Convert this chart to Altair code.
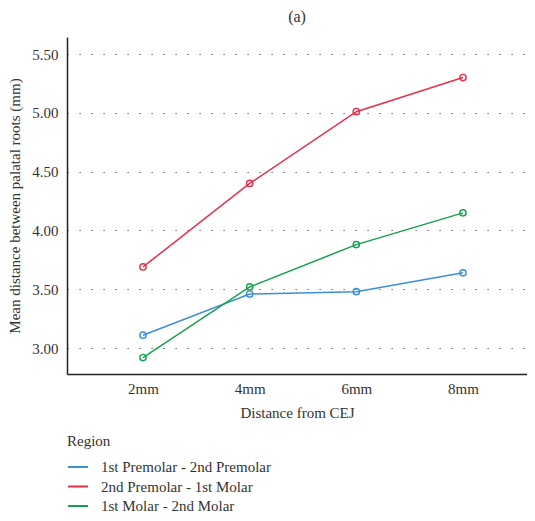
import altair as alt
import pandas as pd

distances = [2, 4, 6, 8]
regions = ["1st Premolar - 2nd Premolar", "2nd Premolar - 1st Molar", "1st Molar - 2nd Molar"]
premolar_premolar = [3.11, 3.46, 3.48, 3.64]
premolar_molar = [3.69, 4.40, 5.01, 5.30]
molar_molar = [2.92, 3.52, 3.88, 4.15]
colors = ["#3b8fd8", "#e8304a", "#17a04c"]

rows = []
for reg, vals in zip(regions, [premolar_premolar, premolar_molar, molar_molar]):
    for d, v in zip(distances, vals):
        rows.append({"Distance": d, "Value": v, "Region": reg})
df = pd.DataFrame(rows)

FONT = "Liberation Serif"
TXT = "#333333"

x = alt.X("Distance:Q",
          scale=alt.Scale(domain=[0.575, 9.2], nice=False, zero=False),
          axis=alt.Axis(values=distances, labelExpr="datum.value + 'mm'",
                        title="Distance from CEJ", grid=False, ticks=False,
                        domainColor="#222222", domainWidth=1.5,
                        labelFont=FONT, labelFontSize=15, labelColor=TXT, labelPadding=7,
                        titleFont=FONT, titleFontSize=15, titleColor=TXT,
                        titleFontWeight="normal", titlePadding=9))
y = alt.Y("Value:Q",
          scale=alt.Scale(domain=[2.78, 5.645], nice=False, zero=False),
          axis=alt.Axis(values=[3.0, 3.5, 4.0, 4.5, 5.0, 5.5], format=".2f",
                        title="Mean distance between palatal roots (mm)",
                        grid=True, gridDash=[1.2, 10.8], gridColor="#444444", gridWidth=1.2,
                        ticks=False, domainColor="#222222", domainWidth=1.5,
                        labelFont=FONT, labelFontSize=15, labelColor=TXT, labelPadding=9,
                        titleFont=FONT, titleFontSize=15, titleColor=TXT,
                        titleFontWeight="normal", titlePadding=9))
color = alt.Color("Region:N", scale=alt.Scale(domain=regions, range=colors),
                  sort=regions,
                  legend=alt.Legend(title="Region", orient="none", legendX=0, legendY=397,
                                    direction="vertical", symbolType="stroke",
                                    symbolStrokeWidth=2, symbolSize=400,
                                    titleFont=FONT, titleFontSize=15, titleColor=TXT,
                                    titleFontWeight="normal", titlePadding=7,
                                    labelFont=FONT, labelFontSize=15, labelColor=TXT,
                                    labelOffset=12, labelLimit=400, rowPadding=0.5))

base = alt.Chart(df).encode(x=x, y=y, color=color, detail="Region:N")
lines = base.mark_line(strokeWidth=1.5)
points = base.mark_point(shape="circle", filled=False, size=40, strokeWidth=1.4, opacity=1)

chart = (lines + points).properties(
    width=460, height=337,
    padding={"left": 59, "top": 29, "right": 0, "bottom": 139},
    autosize=alt.AutoSizeParams(type="none"),
    title=alt.TitleParams("(a)", font=FONT, fontSize=16, color=TXT,
                          fontWeight="normal", anchor="middle", offset=12),
).configure_view(stroke=None)

chart.save("out.html", embed_options={"renderer": "svg", "actions": False})
